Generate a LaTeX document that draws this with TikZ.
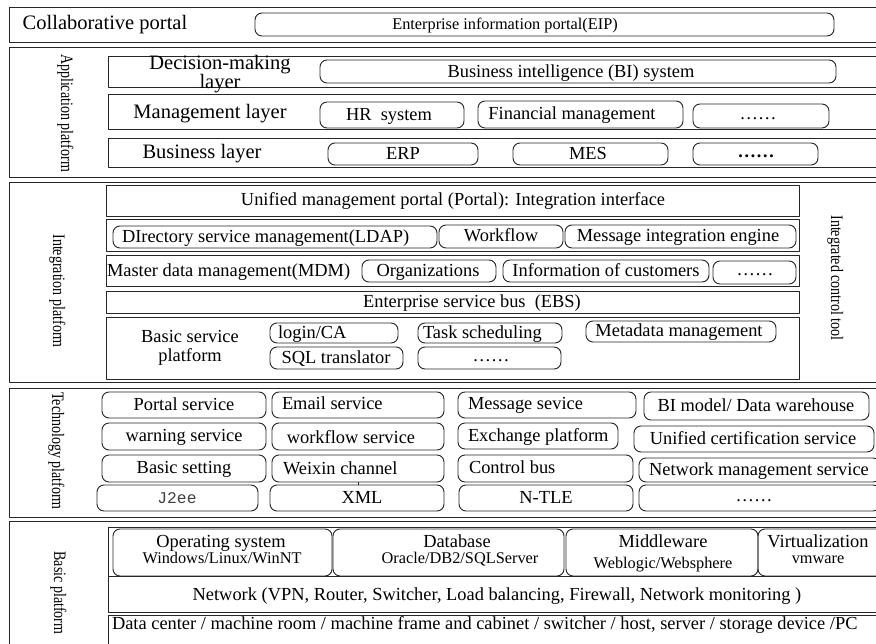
\documentclass[tikz,border=0pt]{standalone}
\usepackage{fontspec}
\setmainfont{Liberation Serif}
\newfontfamily\monof{Liberation Mono}
\newcommand{\fbig}{\fontsize{20.5}{17}\selectfont}
\newcommand{\fmed}{\fontsize{18.4}{19}\selectfont}
\newcommand{\fsml}{\fontsize{16.3}{17}\selectfont}
\newcommand{\fvert}{\fontsize{17.5}{18}\selectfont}
\newcommand{\vlab}[1]{\scalebox{0.8}[1]{#1}}
\newcommand{\mydots}{\raisebox{0.12em}{……}}
\newcommand{\mybox}[6][frm]{%
  \pgfmathsetmacro\mbw{#5-#3}\pgfmathsetmacro\mbh{#6-#4}%
  \pgfmathsetmacro\mbx{(#3+#5)/2}\pgfmathsetmacro\mby{(#4+#6)/2}%
  \node[#1,minimum width=\mbw pt,minimum height=\mbh pt] (#2) at (\mbx,\mby) {};}
\begin{document}
\begin{tikzpicture}[x=1pt,y=-1pt,line join=round]
\tikzset{
  frm/.style={draw=black!85,line width=0.95pt,rectangle,inner sep=0pt,outer sep=0pt},
  rbx/.style={frm,rounded corners=7pt},
  tx/.style={inner sep=0pt,outer sep=0pt,text=black},
  tb/.style={tx,font=\fbig,text height=15pt,text depth=3pt},
  tmd/.style={tx,font=\fmed,text height=13.5pt,text depth=2.5pt},
  ts/.style={tx,font=\fsml,text height=12pt,text depth=2pt},
  tm/.style={tx,align=center},
  vt/.style={tx,rotate=-90,font=\fvert,text height=13pt,text depth=3pt},
}
\useasboundingbox (0,0) rectangle (876,644);
\fill[white] (0,0) rectangle (876,644);
\clip (0,0) rectangle (876,644);

% ---------- Collaborative portal ----------
\mybox{collab}{9}{7}{900}{42}
\node[tb] (collabT) at (105,24) {Collaborative portal};
\mybox[rbx]{eip}{255}{13}{834}{36}
\node[ts] (eipT) at (505,25) {Enterprise information portal(EIP)};

% ---------- Application platform ----------
\mybox{app}{9}{47}{900}{177}
\node[vt] (appL) at (66,113) {\vlab{Application platform}};
\mybox{decR}{108}{56}{900}{87}
\node[tm,font=\fbig] (decT) at (220,74) {Decision-making\\layer};
\mybox[rbx]{bi}{320}{60}{836}{83}
\node[tmd] (biT) at (571,72) {Business intelligence (BI) system};
\mybox{mgmR}{108}{94}{900}{129}
\node[tb] (mgmT) at (210,113) {Management layer};
\mybox[rbx]{hr}{320}{102}{464}{128}
\node[tmd] (hrT) at (389,115) {HR\ \ system};
\mybox[rbx]{fin}{478}{101}{683}{128}
\node[tmd] (finT) at (572,114.5) {Financial management};
\mybox[rbx]{dA}{693}{104}{829}{128}
\node[tmd] (dAT) at (758,116) {\mydots};
\mybox{busR}{108}{138}{900}{167}
\node[tb] (busT) at (202,153) {Business layer};
\mybox[rbx]{erp}{328}{143}{478}{165}
\node[tmd] (erpT) at (403,154) {ERP};
\mybox[rbx]{mes}{513}{143}{668}{165}
\node[tmd] (mesT) at (588,154) {MES};
\mybox[rbx]{dB}{693}{143}{818}{165}
\node[tmd,font=\fmed\bfseries] (dBT) at (756,154) {\mydots};

% ---------- Integration platform ----------
\mybox{intg}{9}{182}{900}{382}
\node[vt] (intL) at (58,291) {\vlab{Integration platform}};
\node[vt] (ictL) at (836,278) {\vlab{Integrated control tool}};
\mybox{uni}{106}{185}{799}{216}
\node[tmd] (uniT) at (453,200.5) {Unified management portal (Portal): Integration interface};
\mybox{dirR}{106}{219}{799}{251}
\mybox[rbx]{ldap}{113}{226}{437}{248}
\node[tmd,anchor=west] (ldapT) at (122,237) {DIrectory service management(LDAP)};
\mybox[rbx]{wf}{439}{225}{563}{248}
\node[tmd] (wfT) at (501,236.5) {Workflow};
\mybox[rbx]{msg}{565}{225}{796}{248}
\node[tmd] (msgT) at (678,236.5) {Message integration engine};
\mybox{mdmR}{106}{255}{799}{286}
\node[tmd,anchor=west] (mdmT) at (107,271) {Master data management(MDM)};
\mybox[rbx]{org}{362}{260}{496}{282}
\node[tmd] (orgT) at (428,271) {Organizations};
\mybox[rbx]{info}{503}{260}{709}{282}
\node[tmd] (infoT) at (606,271) {Information of customers};
\mybox[rbx]{dC}{713}{261}{796}{284}
\node[tmd] (dCT) at (755,272) {\mydots};
\mybox{ebs}{106}{291}{799}{313}
\node[tmd] (ebsT) at (472,302) {Enterprise service bus\ \ (EBS)};
\mybox{bsp}{106}{317}{799}{379}
\node[tm,font=\fmed] (bspT) at (190,347.5) {Basic service\\platform};
\mybox[rbx]{login}{270}{323}{398}{343}
\node[tmd,anchor=west] (loginT) at (278,333) {login/CA};
\mybox[rbx]{task}{418}{323}{562}{343}
\node[tmd,anchor=west] (taskT) at (423,333) {Task scheduling};
\mybox[rbx]{meta}{586}{321}{776}{342}
\node[tmd] (metaT) at (679,331.5) {Metadata management};
\mybox[rbx]{sql}{270}{347}{403}{369}
\node[tmd] (sqlT) at (336,358) {SQL translator};
\mybox[rbx]{dD}{418}{347}{561}{369}
\node[tmd] (dDT) at (491,358) {\mydots};

% ---------- Technology platform ----------
\mybox{tech}{9}{388}{900}{517}
\node[vt] (techL) at (57,451) {\vlab{Technology platform}};
\mybox[rbx]{ps}{102}{392}{266}{418}
\node[tmd] (psT) at (184,405) {Portal service};
\mybox[rbx]{ems}{272}{392}{444}{418}
\node[tmd,anchor=west] (emsT) at (282,404) {Email service};
\mybox[rbx]{mss}{458}{392}{636}{418}
\node[tmd,anchor=west] (mssT) at (468,404) {Message sevice};
\mybox[rbx]{bim}{644}{392}{869}{420}
\node[tmd] (bimT) at (756,406) {BI model/ Data warehouse};
\mybox[rbx]{ws}{102}{423}{266}{450}
\node[tmd] (wsT) at (184,436) {warning service};
\mybox[rbx]{wfs}{272}{423}{444}{450}
\node[tmd] (wfsT) at (351,437.5) {workflow service};
\mybox[rbx]{exc}{458}{423}{618}{449}
\node[tmd,anchor=west] (excT) at (468,435.5) {Exchange platform};
\mybox[rbx]{ucs}{634}{426}{874}{452}
\node[tmd] (ucsT) at (753,439) {Unified certification service};
\mybox[rbx]{bs}{102}{455}{266}{482}
\node[tmd] (bsT) at (184,467.5) {Basic setting};
\mybox[rbx]{wx}{272}{455}{444}{482}
\node[tmd,anchor=west] (wxT) at (283,468.5) {Weixin channel};
\mybox[rbx]{cb}{458}{455}{633}{482}
\node[tmd,anchor=west] (cbT) at (469,467.5) {Control bus};
\mybox[rbx]{nms}{639}{458}{880}{482}
\node[tmd] (nmsT) at (759,470) {Network management service};
\mybox[rbx]{j2}{97}{485}{258}{511}
\node[ts,font=\fsml\monof,text=black!75] (j2T) at (177,498) {J2ee};
\mybox[rbx]{xml}{270}{485}{444}{511}
\node[tmd] (xmlT) at (362,498) {XML};
\mybox[rbx]{ntle}{459}{485}{633}{511}
\node[tmd] (ntleT) at (546,498) {N-TLE};
\mybox[rbx]{dE}{639}{485}{880}{511}
\node[tmd] (dET) at (754,498) {\mydots};
\coordinate (tickA) at (358,482);
\coordinate (tickB) at (358,485);
\draw[black!85,line width=0.95pt] (tickA) -- (tickB);

% ---------- Basic platform ----------
\mybox{basic}{9}{521}{900}{700}
\node[vt] (basL) at (59,593) {\vlab{Basic platform}};
\mybox{bp}{108}{527}{900}{576}
\mybox[rbx]{os}{113}{529}{332}{576}
\node[tmd] (osT) at (221,542) {Operating system};
\node[ts] (osS) at (222,558) {Windows/Linux/WinNT};
\mybox[rbx]{db}{333}{529}{564}{576}
\node[tmd] (dbT) at (457,542) {Database};
\node[ts] (dbS) at (460,558) {Oracle/DB2/SQLServer};
\mybox[rbx]{mw}{566}{529}{758}{576}
\node[tmd] (mwT) at (663,542) {Middleware};
\node[ts] (mwS) at (663,563) {Weblogic/Websphere};
\mybox[rbx]{vm}{758}{529}{900}{576}
\node[tmd] (vmT) at (818,542) {Virtualization};
\node[ts] (vmS) at (818,558) {vmware};
\mybox{net}{108}{576}{900}{612}
\node[tmd] (netT) at (497,595) {Network (VPN, Router, Switcher, Load balancing, Firewall, Network monitoring )};
\mybox{dc}{108}{615}{900}{700}
\node[tmd,anchor=west] (dcT) at (112,624) {Data center / machine room / machine frame and cabinet / switcher / host, server / storage device /PC};
\end{tikzpicture}
\end{document}
